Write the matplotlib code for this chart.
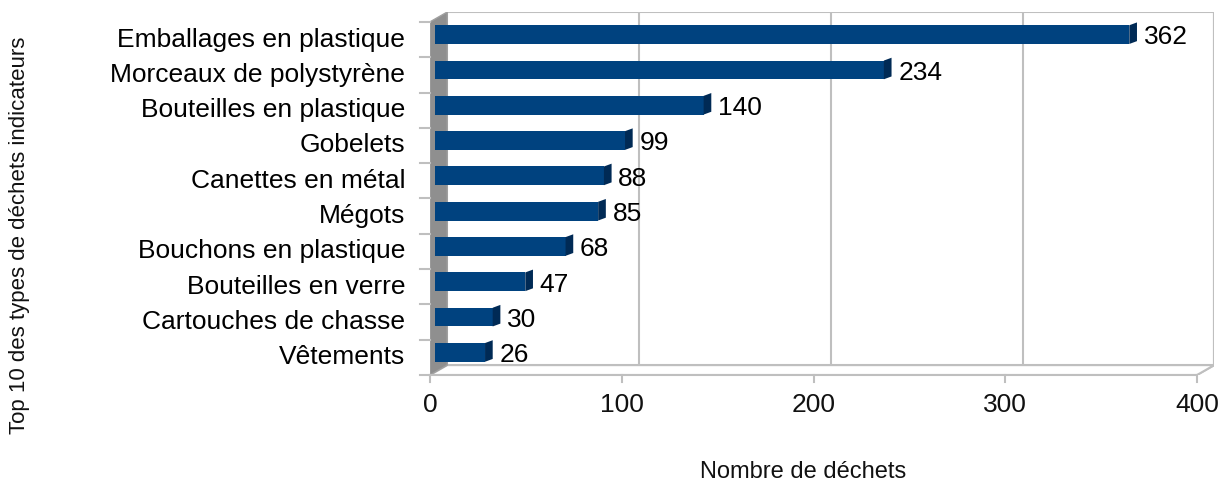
import matplotlib.pyplot as plt
from matplotlib.patches import Polygon

plt.rcParams['font.family'] = ['Liberation Sans', 'DejaVu Sans']

categories = ["Emballages en plastique", "Morceaux de polystyrène", "Bouteilles en plastique",
              "Gobelets", "Canettes en métal", "Mégots", "Bouchons en plastique",
              "Bouteilles en verre", "Cartouches de chasse", "Vêtements"]
values = [362, 234, 140, 99, 88, 85, 68, 47, 30, 26]
xticks = [0, 100, 200, 300, 400]

bar_color = "#00427f"
side_color = "#002a55"
wall_color = "#8f8f8f"
grid_color = "#bfbfbf"

# depth of the fake 3d box, in data units
dx = 9.0
dy = 0.28
xmax = 400
n = len(categories)

fig = plt.figure(figsize=(12.19, 4.88), dpi=100)
W, H = 1219, 488
left_px, right_px = 430, 430 + (xmax + dx) * (767 / 400)
top_px, bot_px = 12, 375
ax = fig.add_axes([left_px / W, 1 - bot_px / H, (right_px - left_px) / W, (bot_px - top_px) / H])
ax.set_xlim(0, xmax + dx)
ax.set_ylim(n - 0.5, -0.5 - dy)
ax.axis("off")

y0, y1 = -0.5, n - 0.5

# back wall
ax.add_patch(Polygon([(dx, y0 - dy), (xmax + dx, y0 - dy), (xmax + dx, y1 - dy), (dx, y1 - dy)],
                     closed=True, facecolor="white", edgecolor=grid_color, lw=1.5, zorder=1))
for t in xticks[1:]:
    ax.plot([t + dx, t + dx], [y0 - dy, y1 - dy], color=grid_color, lw=1.5, zorder=1)
    ax.plot([t, t + dx], [y1, y1 - dy], color=grid_color, lw=1.5, zorder=1)

# floor
ax.add_patch(Polygon([(0, y1), (xmax, y1), (xmax + dx, y1 - dy), (dx, y1 - dy)],
                     closed=True, facecolor="white", edgecolor=grid_color, lw=1.5, zorder=1))

# left wall
ax.add_patch(Polygon([(0, y0), (dx, y0 - dy), (dx, y1 - dy), (0, y1)],
                     closed=True, facecolor=wall_color, edgecolor="#a0a0a0", lw=1, zorder=2))

# tick marks
for i in range(n + 1):
    ax.plot([-5, 0], [i - 0.5, i - 0.5], color=grid_color, lw=1.5, clip_on=False, zorder=2)
for t in xticks:
    ax.plot([t, t], [y1, y1 + 0.2], color=grid_color, lw=1.5, clip_on=False, zorder=2)
    ax.text(t, y1 + 0.5, str(t), ha="center", va="top", fontsize=19, color="#111111")
ax.plot([0, xmax], [y1, y1], color=grid_color, lw=1.5, clip_on=False, zorder=2)

# bars
h = 0.53
ys = [i - dy / 2 for i in range(n)]
x_start = dx * 0.3
ax.barh(ys, values, height=h, left=x_start, color=bar_color, zorder=3)
sx, sy = 4.0, 0.08
for y, v in zip(ys, values):
    xe = x_start + v
    ax.add_patch(Polygon([(xe, y - h / 2), (xe + sx, y - h / 2 - sy), (xe + sx, y + h / 2 - sy), (xe, y + h / 2)],
                         closed=True, facecolor=side_color, edgecolor="none", zorder=3))
    ax.text(xe + sx + 3.5, y + 0.08, str(v), ha="left", va="center", fontsize=19, color="#000000", zorder=4)

for i, c in enumerate(categories):
    ax.text(-13, i, c, ha="right", va="center", fontsize=19, color="#000000")

fig.text(803 / W, 1 - 472 / H, "Nombre de déchets", ha="center", va="center", fontsize=17, color="#111111")
fig.text(20 / W, 1 - 235 / H, "Top 10 des types de déchets indicateurs", ha="center", va="center",
         rotation=90, fontsize=16, color="#111111")

fig.savefig("out.png", dpi=100)
